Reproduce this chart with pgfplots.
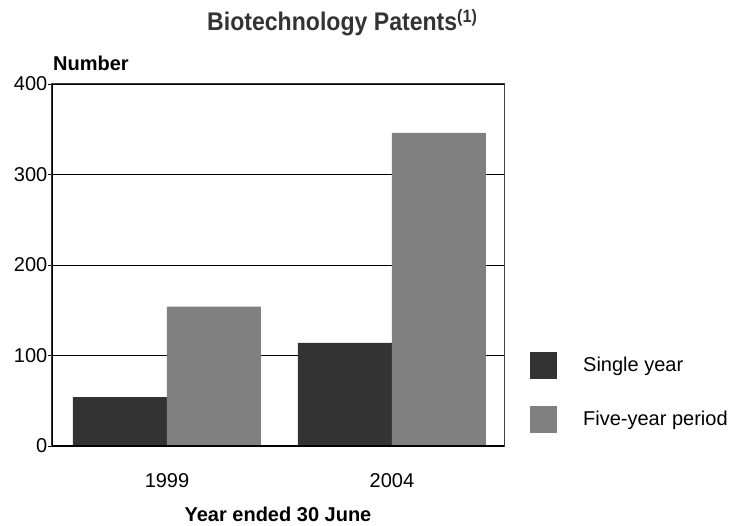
\documentclass[border=0pt]{standalone}
\usepackage{fontspec}
\setmainfont{Liberation Sans}
\usepackage{graphicx}
\usepackage{pgfplots}
\pgfplotsset{compat=1.18}

\definecolor{single}{HTML}{333333}
\definecolor{fiveyr}{HTML}{808080}
\newcommand\lbl{\fontsize{20bp}{24bp}\selectfont}

\begin{document}
\begin{tikzpicture}
\useasboundingbox (-52bp,-80bp) rectangle (682bp,446bp);

\begin{axis}[
    at={(0,0)}, anchor=south west,
    scale only axis,
    width=452bp, height=362bp,
    ybar=0pt, bar width=94bp,
    xmin=-0.5111, xmax=1.4978,
    ymin=0, ymax=400,
    xtick={0,1}, xticklabels={{\lbl 1999},{\lbl 2004}},
    ytick={0,100,200,300,400},
    yticklabels={{\lbl 0},{\lbl 100},{\lbl 200},{\lbl 300},{\lbl 400}},
    ytick pos=left,
    ymajorgrids,
    grid style={black, line width=0.8bp},
    axis line style={draw=black!75, line width=1bp},
    tick align=outside,
    major tick length=4bp,
    ytick style={black, line width=0.8bp},
    xtick style={draw=none},
    yticklabel style={inner sep=0pt, xshift=-0.5bp},
    xticklabel style={anchor=base, inner sep=0pt, yshift=-37bp},
    xlabel={Year ended 30 June},
    xlabel style={font=\lbl\bfseries,
        at={(axis description cs:0.5,0)}, anchor=base, inner sep=0pt, yshift=-75.7bp},
    legend style={draw=none, fill=none, inner sep=0pt,
        at={(rel axis cs:1.0575,0.1478)}, anchor=west,
        row sep=27bp, column sep=26bp,
        font=\lbl,
        nodes={inner sep=0pt}},
    legend cell align=left,
    legend image code/.code={\fill[#1] (0bp,-13.5bp) rectangle (27bp,13.5bp);},
]
\addplot[fill=single, draw=none] coordinates {(0,54) (1,114)};
\addplot[fill=fiveyr, draw=none] coordinates {(0,154) (1,346)};
\legend{Single year, Five-year period}

\draw[black, line width=2bp] (rel axis cs:0,1) -- (rel axis cs:0,0) -- (rel axis cs:1,0);
\end{axis}

\node[anchor=base west, inner sep=0pt] at (155bp,415bp)
    {\fontsize{25.5bp}{30bp}\selectfont\bfseries\color{black!80}\scalebox{0.905}[1]{Biotechnology Patents\textsuperscript{(1)}}};
\node[anchor=base west, inner sep=0pt] at (1bp,375.3bp)
    {\lbl\bfseries Number};
\end{tikzpicture}
\end{document}
